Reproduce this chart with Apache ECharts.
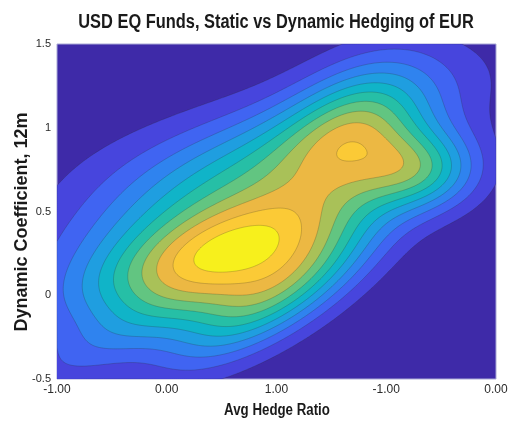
<!DOCTYPE html>
<html>
<head>
<meta charset="utf-8">
<script src="https://cdn.jsdelivr.net/npm/echarts@6/dist/echarts.min.js"></script>
<style>
  html, body { margin: 0; padding: 0; background: #ffffff; }
  #chart { width: 514px; height: 433px; }
</style>
</head>
<body>
<div id="chart"></div>
<script>
// Kernel components of the fund density: centre, spread, correlation and weight
const kernelX   = [0.948, 1.689, -0.177, 2.279, 0.770, 0.479, -0.153];
const kernelY   = [-0.008, 0.968, -0.151, 0.753, 0.735, 0.260, 0.867];
const kernelSX  = [0.628, 0.474, 0.920, 0.387, 1.142, 0.843, 0.900];
const kernelSY  = [0.284, 0.309, 0.345, 0.170, 0.377, 0.268, 0.250];
const kernelRho = [0.738, 0.429, 0.893, 0.024, 0.748, 0.656, 0.600];
const kernelW   = [6.306, 4.802, 2.116, 5.494, 5.266, 9.046, 0.700];

// Contour levels and the fill colour of each band (lowest band first)
const contourLevels = [1, 2, 3, 4, 5, 6, 7, 8, 9, 10, 11];
const bandColors = ['#3e2aa8', '#4745dd', '#4064f2', '#2f83ef', '#1f9ee0', '#10b4c8',
                    '#26bfa6', '#62c581', '#a9c158', '#ecb843', '#fbca36', '#f7f01c'];

// Axes
const xRange = [-1, 3];
const yRange = [-0.5, 1.5];
const xTickLabels = ['-1.00', '0.00', '1.00', '-1.00', '0.00'];
const yTickLabels = ['-0.5', '0', '0.5', '1', '1.5'];

function density(x, y) {
  let s = 0;
  for (let k = 0; k < kernelW.length; k++) {
    const dx = (x - kernelX[k]) / kernelSX[k];
    const dy = (y - kernelY[k]) / kernelSY[k];
    const r = kernelRho[k];
    const q = (dx * dx - 2 * r * dx * dy + dy * dy) / (1 - r * r);
    s += kernelW[k] * Math.exp(-0.5 * q);
  }
  return s;
}

// Sample the density on a padded lattice so every contour closes
const NX = 220, NY = 170;
const xs = [], ys = [];
const dxs = (xRange[1] - xRange[0]) / NX, dys = (yRange[1] - yRange[0]) / NY;
for (let i = -1; i <= NX + 1; i++) xs.push(xRange[0] + i * dxs);
for (let j = -1; j <= NY + 1; j++) ys.push(yRange[0] + j * dys);
const V = [];
for (let j = 0; j < ys.length; j++) {
  const row = [];
  for (let i = 0; i < xs.length; i++) {
    const pad = (i === 0 || j === 0 || i === xs.length - 1 || j === ys.length - 1);
    row.push(pad ? -1 : density(xs[i], ys[j]));
  }
  V.push(row);
}

// Marching squares, stitched into closed rings for one level
function contourRings(L) {
  const pts = {}, adj = {};
  const nx = xs.length, ny = ys.length;
  function pt(key, x0, y0, v0, x1, y1, v1) {
    if (!(key in pts)) {
      const t = (L - v0) / (v1 - v0);
      pts[key] = [x0 + t * (x1 - x0), y0 + t * (y1 - y0)];
    }
    return key;
  }
  function link(a, b) {
    (adj[a] = adj[a] || []).push(b);
    (adj[b] = adj[b] || []).push(a);
  }
  for (let j = 0; j < ny - 1; j++) {
    for (let i = 0; i < nx - 1; i++) {
      const v00 = V[j][i], v10 = V[j][i + 1], v11 = V[j + 1][i + 1], v01 = V[j + 1][i];
      const b0 = v00 >= L, b1 = v10 >= L, b2 = v11 >= L, b3 = v01 >= L;
      const idx = (b0 ? 1 : 0) | (b1 ? 2 : 0) | (b2 ? 4 : 0) | (b3 ? 8 : 0);
      if (idx === 0 || idx === 15) continue;
      const x0 = xs[i], x1 = xs[i + 1], y0 = ys[j], y1 = ys[j + 1];
      const kB = b0 !== b1 ? pt('h' + i + '_' + j, x0, y0, v00, x1, y0, v10) : null;
      const kR = b1 !== b2 ? pt('v' + (i + 1) + '_' + j, x1, y0, v10, x1, y1, v11) : null;
      const kT = b3 !== b2 ? pt('h' + i + '_' + (j + 1), x0, y1, v01, x1, y1, v11) : null;
      const kL = b0 !== b3 ? pt('v' + i + '_' + j, x0, y0, v00, x0, y1, v01) : null;
      const E = [kB, kR, kT, kL].filter(k => k);
      if (E.length === 2) {
        link(E[0], E[1]);
      } else if (E.length === 4) {
        const c = (v00 + v10 + v11 + v01) / 4 >= L;
        if (idx === 5) {
          if (c) { link(kB, kR); link(kT, kL); } else { link(kB, kL); link(kR, kT); }
        } else {
          if (c) { link(kB, kL); link(kR, kT); } else { link(kB, kR); link(kT, kL); }
        }
      }
    }
  }
  const seen = {}, rings = [];
  Object.keys(adj).forEach(start => {
    if (seen[start]) return;
    const ring = [];
    let cur = start;
    while (cur && !seen[cur]) {
      seen[cur] = true;
      ring.push(pts[cur]);
      cur = adj[cur].find(n => !seen[n]);
    }
    if (ring.length > 2) rings.push(ring);
  });
  return rings;
}

const ringsByLevel = contourLevels.map(contourRings);

const chart = echarts.init(document.getElementById('chart'), null, { renderer: 'canvas' });
const narrow = '"Liberation Sans Narrow", "Liberation Sans", Arial, sans-serif';
const sans = '"Liberation Sans", Arial, sans-serif';

chart.setOption({
  animation: false,
  backgroundColor: '#ffffff',
  grid: {
    left: 57, right: 18, top: 44, bottom: 54,
    show: true, backgroundColor: bandColors[0],
    borderColor: '#a9a9d6', borderWidth: 1
  },
  xAxis: {
    type: 'value', min: xRange[0], max: xRange[1], interval: 1,
    axisLine: { show: false }, axisTick: { show: false }, splitLine: { show: false },
    axisLabel: {
      margin: 5, fontSize: 12, color: '#2a2a2a', fontFamily: narrow,
      formatter: v => xTickLabels[Math.round(v - xRange[0])]
    }
  },
  yAxis: {
    type: 'value', min: yRange[0], max: yRange[1], interval: 0.5,
    axisLine: { show: false }, axisTick: { show: false }, splitLine: { show: false },
    axisLabel: {
      margin: 6, fontSize: 11, color: '#2a2a2a', fontFamily: narrow,
      formatter: v => yTickLabels[Math.round((v - yRange[0]) / 0.5)]
    }
  },
  graphic: [
    {
      type: 'text', x: 276, y: 22, scaleX: 0.82, silent: true,
      style: {
        text: 'USD EQ Funds, Static vs Dynamic Hedging of EUR',
        font: 'bold 20px ' + sans, fill: '#1a1a1a',
        textAlign: 'center', textVerticalAlign: 'middle'
      }
    },
    {
      type: 'text', x: 277, y: 411, scaleX: 0.83, silent: true,
      style: {
        text: 'Avg Hedge Ratio',
        font: 'bold 16px ' + sans, fill: '#1a1a1a',
        textAlign: 'center', textVerticalAlign: 'middle'
      }
    },
    {
      type: 'text', x: 22, y: 222, rotation: Math.PI / 2, scaleX: 1.0, silent: true,
      style: {
        text: 'Dynamic Coefficient, 12m',
        font: 'bold 18px ' + sans, fill: '#1a1a1a',
        textAlign: 'center', textVerticalAlign: 'middle'
      }
    }
  ],
  series: [{
    type: 'custom',
    coordinateSystem: 'cartesian2d',
    clip: true,
    silent: true,
    data: contourLevels.map((L, k) => [k]),
    renderItem: (params, api) => {
      const k = params.dataIndex;
      return {
        type: 'group',
        children: ringsByLevel[k].map(ring => ({
          type: 'polygon',
          z2: k,
          shape: { points: ring.map(p => api.coord(p)) },
          style: { fill: bandColors[k + 1], stroke: 'rgba(40,40,30,0.28)', lineWidth: 0.8 }
        }))
      };
    }
  }]
});
</script>
</body>
</html>
